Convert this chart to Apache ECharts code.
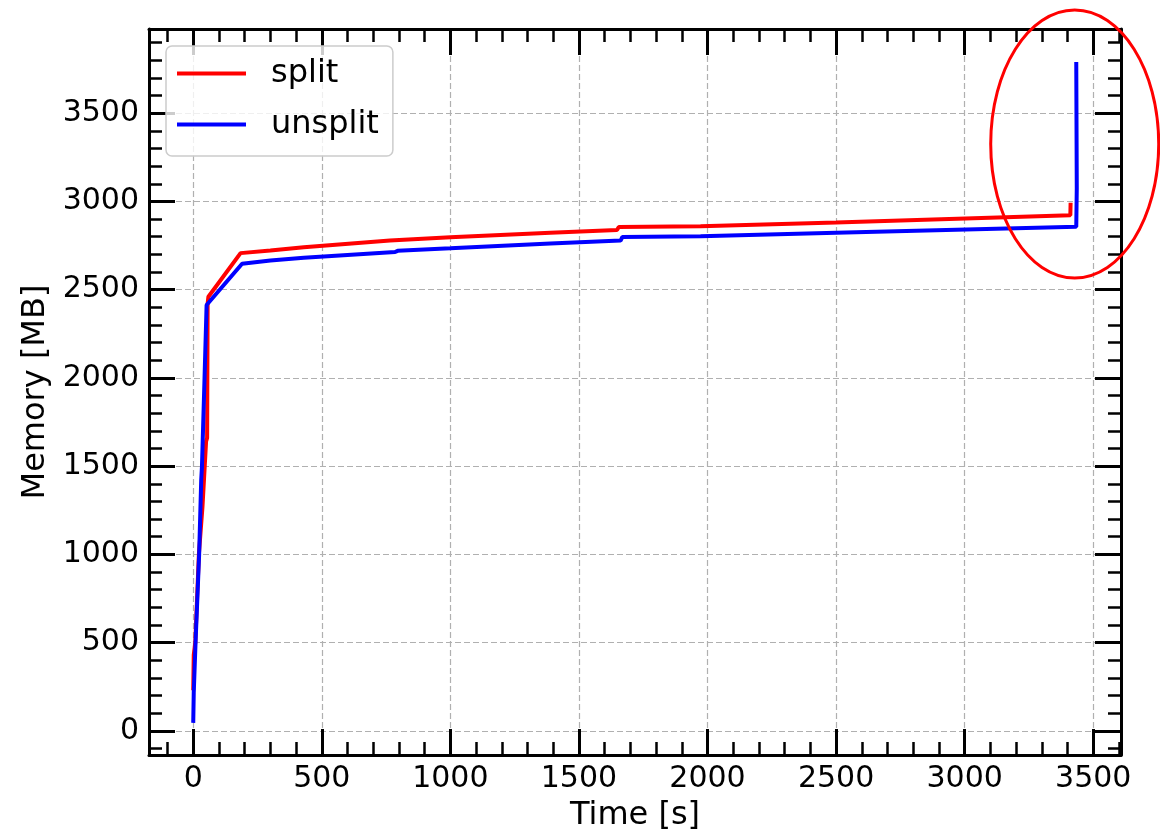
<!DOCTYPE html>
<html>
<head>
<meta charset="utf-8">
<script src="https://cdn.jsdelivr.net/npm/echarts@6/dist/echarts.min.js"></script>
<style>
html,body{margin:0;padding:0;background:#ffffff;}
#chart{width:1160px;height:832px;}
</style>
</head>
<body>
<div id="chart"></div>
<script>
// ---- data ----
const splitTime   = [0, 2, 8, 15, 22, 36, 50, 54, 56, 59, 184, 300, 430, 435, 765, 772, 1000, 1389, 1648, 1655, 1973, 2500, 3411, 3412];
const splitMemory = [230, 430, 500, 750, 1000, 1271, 1640, 1660, 2420, 2460, 2707, 2722, 2740, 2746, 2778, 2784, 2797, 2822, 2838, 2855, 2859, 2881, 2922, 2992];

const unsplitTime   = [0, 2, 9, 16, 23, 31, 34, 44, 52, 190, 300, 430, 785, 795, 1000, 1389, 1662, 1669, 1973, 2500, 3434, 3436, 3434];
const unsplitMemory = [45, 215, 500, 750, 1000, 1420, 1500, 2000, 2413, 2647, 2665, 2681, 2713, 2720, 2734, 2762, 2778, 2799, 2803, 2823, 2857, 3073, 3790];

const seriesNames = ['split', 'unsplit'];
const xTickValues = [0, 500, 1000, 1500, 2000, 2500, 3000, 3500];
const yTickValues = [0, 500, 1000, 1500, 2000, 2500, 3000, 3500];
const xMinorTicks = []; for (let v = -100; v <= 3600; v += 100) xMinorTicks.push(v);
const yMinorTicks = []; for (let v = -100; v <= 3900; v += 100) yMinorTicks.push(v);
const xRange = [-172, 3608];
const yRange = [-137, 3977];
const highlightCenter = [3428, 3325];   // annotated region (data coordinates)

// ---- styling ----
const FONT = 'DejaVu Sans';
const pair = (xs, ys) => xs.map((x, i) => [x, ys[i]]);
const plain = v => String(v);
const box = {left: 149, right: 39, top: 29, bottom: 77, containLabel: false, outerBoundsMode: 'none'};

function xAxisDef(grid, pos, major) {
  return {
    type: 'value', gridIndex: grid, position: pos, min: xRange[0], max: xRange[1],
    axisLine: {show: major, onZero: false, lineStyle: {color: '#000', width: 3}},
    axisTick: {show: true, inside: true, length: major ? 26 : 13,
               customValues: major ? xTickValues : xMinorTicks,
               lineStyle: {color: '#000', width: major ? 3 : 2.5}},
    axisLabel: {show: major && pos === 'bottom', customValues: xTickValues, formatter: plain,
                fontSize: 30, fontFamily: FONT, color: '#000', margin: 9},
    splitLine: {show: major && pos === 'bottom', lineStyle: {type: [6, 3], color: '#b0b0b0', width: 1.2}},
    name: (major && pos === 'bottom') ? 'Time [s]' : '',
    nameLocation: 'middle', nameGap: 45,
    nameTextStyle: {fontSize: 32, fontFamily: FONT, color: '#000'}
  };
}
function yAxisDef(grid, pos, major) {
  return {
    type: 'value', gridIndex: grid, position: pos, min: yRange[0], max: yRange[1],
    axisLine: {show: major, onZero: false, lineStyle: {color: '#000', width: 3}},
    axisTick: {show: true, inside: true, length: major ? 26 : 13,
               customValues: major ? yTickValues : yMinorTicks,
               lineStyle: {color: '#000', width: major ? 3 : 2.5}},
    axisLabel: {show: major && pos === 'left', customValues: yTickValues, formatter: plain,
                fontSize: 30, fontFamily: FONT, color: '#000', margin: 10},
    splitLine: {show: major && pos === 'left', lineStyle: {type: [6, 3], color: '#b0b0b0', width: 1.2}},
    name: (major && pos === 'left') ? 'Memory [MB]' : '',
    nameLocation: 'middle', nameGap: 95,
    nameTextStyle: {fontSize: 32, fontFamily: FONT, color: '#000'}
  };
}

const chart = echarts.init(document.getElementById('chart'), null, {renderer: 'canvas'});
chart.setOption({
  animation: false,
  backgroundColor: '#ffffff',
  textStyle: {fontFamily: FONT},
  grid: [Object.assign({}, box), Object.assign({}, box)],
  xAxis: [xAxisDef(0, 'bottom', true), xAxisDef(0, 'top', true), xAxisDef(1, 'bottom', false), xAxisDef(1, 'top', false)],
  yAxis: [yAxisDef(0, 'left', true), yAxisDef(0, 'right', true), yAxisDef(1, 'left', false), yAxisDef(1, 'right', false)],
  legend: {
    data: seriesNames, orient: 'vertical', left: 166, top: 46,
    icon: 'rect', itemWidth: 69, itemHeight: 4, itemGap: 14, selectedMode: false,
    textStyle: {fontSize: 32, fontFamily: FONT, color: '#000', lineHeight: 34, padding: [3, 0, 0, 20]},
    padding: [9, 14, 13, 11],
    backgroundColor: 'rgba(255,255,255,0.8)', borderColor: '#cccccc', borderWidth: 1.5, borderRadius: 6
  },
  series: [
    {name: seriesNames[0], type: 'line', xAxisIndex: 0, yAxisIndex: 0, color: '#ff0000',
     showSymbol: false, symbol: 'none', lineStyle: {width: 4, color: '#ff0000'},
     data: pair(splitTime, splitMemory)},
    {name: seriesNames[1], type: 'line', xAxisIndex: 0, yAxisIndex: 0, color: '#0000ff',
     showSymbol: false, symbol: 'none', lineStyle: {width: 4, color: '#0000ff'},
     data: pair(unsplitTime, unsplitMemory)}
  ]
});

const c = chart.convertToPixel({xAxisIndex: 0, yAxisIndex: 0}, highlightCenter);
chart.setOption({
  graphic: [{
    type: 'ellipse', z: 100,
    shape: {cx: c[0], cy: c[1], rx: 84, ry: 134},
    style: {fill: 'none', stroke: '#ff0000', lineWidth: 3}
  }]
});
</script>
</body>
</html>
